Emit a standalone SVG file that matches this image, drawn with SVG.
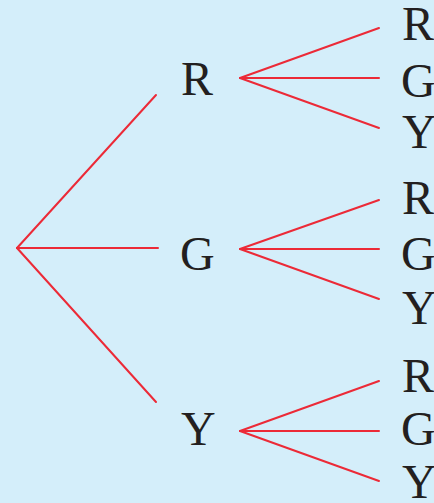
<svg xmlns="http://www.w3.org/2000/svg" width="434" height="503" viewBox="0 0 434 503">
  <style>
    .edge { stroke: #ec2a37; stroke-width: 2; fill: none; stroke-linecap: round; }
    .lbl { font-family: 'Liberation Serif', 'Times New Roman', serif; font-size: 48px; fill: #231f20; }
  </style>
  <rect width="434" height="503" fill="#d4eefa"/>

  <g id="connectors">
    <!-- first level -->
    <line class="edge" x1="17" y1="248" x2="156" y2="95"/>
    <line class="edge" x1="17" y1="248" x2="158" y2="248"/>
    <line class="edge" x1="17" y1="248" x2="156" y2="402"/>
    <!-- from R -->
    <line class="edge" x1="240" y1="78" x2="379" y2="28"/>
    <line class="edge" x1="240" y1="78" x2="379" y2="78"/>
    <line class="edge" x1="240" y1="78" x2="379" y2="128"/>
    <!-- from G -->
    <line class="edge" x1="240" y1="249" x2="379" y2="200"/>
    <line class="edge" x1="240" y1="249" x2="379" y2="249"/>
    <line class="edge" x1="240" y1="249" x2="379" y2="299"/>
    <!-- from Y -->
    <line class="edge" x1="240" y1="431" x2="379" y2="381"/>
    <line class="edge" x1="240" y1="431" x2="379" y2="431"/>
    <line class="edge" x1="240" y1="431" x2="379" y2="481"/>
  </g>

  <g id="node-R"><text class="lbl" x="181" y="95">R</text></g>
  <g id="node-G"><text class="lbl" x="180" y="270">G</text></g>
  <g id="node-Y"><text class="lbl" x="181" y="445">Y</text></g>

  <g id="node-RR"><text class="lbl" x="402" y="40">R</text></g>
  <g id="node-RG"><text class="lbl" x="401" y="97">G</text></g>
  <g id="node-RY"><text class="lbl" x="402" y="148">Y</text></g>

  <g id="node-GR"><text class="lbl" x="402" y="214">R</text></g>
  <g id="node-GG"><text class="lbl" x="401" y="270">G</text></g>
  <g id="node-GY"><text class="lbl" x="402" y="324">Y</text></g>

  <g id="node-YR"><text class="lbl" x="402" y="392">R</text></g>
  <g id="node-YG"><text class="lbl" x="401" y="445">G</text></g>
  <g id="node-YY"><text class="lbl" x="402" y="498">Y</text></g>
</svg>
